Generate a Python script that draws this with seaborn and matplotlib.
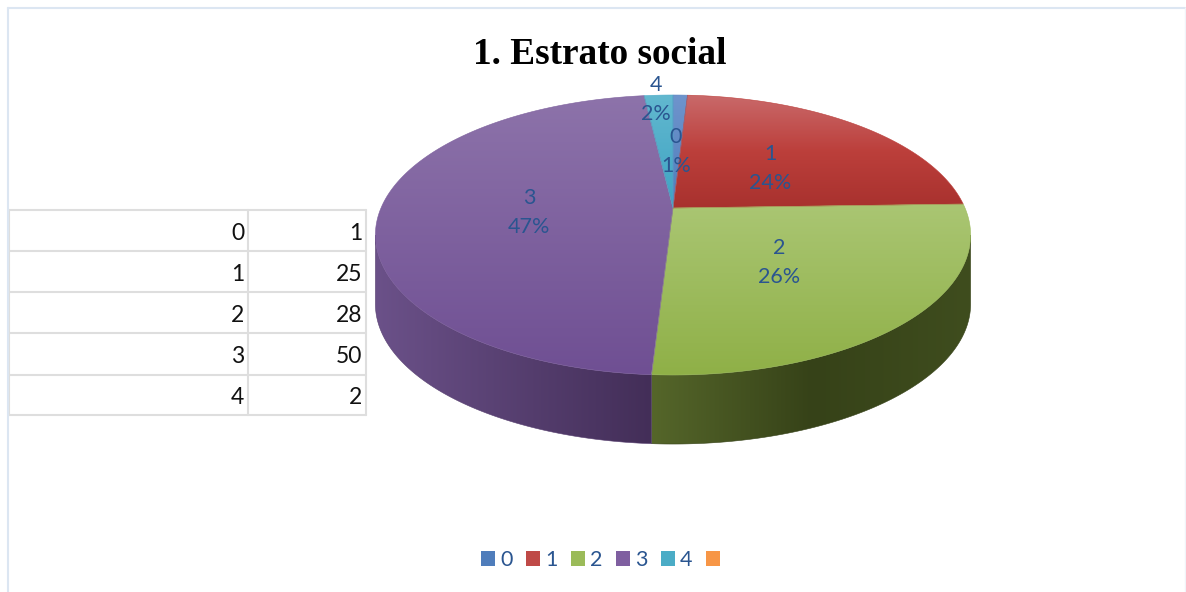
import numpy as np
import matplotlib
matplotlib.use("Agg")
import matplotlib.pyplot as plt
from matplotlib.patches import Polygon, Patch
import seaborn as sns

categories = ["0", "1", "2", "3", "4"]
counts = [1, 25, 28, 50, 2]
legend_extra = ""  # empty sixth entry of the original legend
title = "1. Estrato social"

# top face gradients, light to dark
top_colors = [["#6f94cc", "#4f7dbb"], ["#c9696a", "#bc3f3b", "#a8312e"], ["#aac673", "#8fb047"],
              ["#8d73aa", "#6f4f93"], ["#62b8cf", "#3ea3c3"]]
side_colors = [["#39557f", "#39557f"], ["#7c2d2b", "#7c2d2b"], ["#55662a", "#364218", "#3f4d1e"],
               ["#6b5189", "#432e58"], ["#2d7a91", "#2d7a91"]]
legend_colors = ["#4f7dbb", "#bf4a47", "#9bbb59", "#7f5fa0", "#4bacc6", "#f79646"]
label_color = "#2a5590"

# pie geometry in image pixels
cx, cy = 673, 208
rx, ry, persp, depth = 292, 134.8, 0.193, 69
label_pos = [(676, 151), (770, 168), (779, 262), (529, 212), (656, 99)]

sns.set_theme(style="white")
plt.rcParams["font.family"] = ["Lato", "DejaVu Sans"]

fig, ax = plt.subplots(figsize=(11.86, 5.92), dpi=100)
fig.subplots_adjust(0, 0, 1, 1)


def project(theta, shift=0):
    # theta is clockwise from 12 o'clock, the top face is tilted away from the viewer
    w = 1 + persp * np.cos(theta)
    return np.column_stack([cx + rx * np.sin(theta) / w, cy - ry * np.cos(theta) / w + shift])


def gradient_fill(points, colors, horizontal=False, zorder=2):
    cmap = sns.blend_palette(colors, as_cmap=True)
    x0, y0 = points.min(axis=0)
    x1, y1 = points.max(axis=0)
    grad = np.linspace(0, 1, 256)
    grad = grad[None, :] if horizontal else grad[:, None]
    im = ax.imshow(grad, cmap=cmap, extent=(x0, x1, y1, y0), aspect="auto", zorder=zorder, interpolation="bilinear")
    patch = Polygon(points, closed=True, transform=ax.transData, facecolor="none", edgecolor="none")
    ax.add_patch(patch)
    im.set_clip_path(patch)
    ax.add_patch(Polygon(points, closed=True, facecolor="none", edgecolor=cmap(0.5), lw=0.4, zorder=zorder + 0.1))


edges = np.concatenate([[0], np.cumsum(counts)]) / np.sum(counts) * 2 * np.pi
silhouette = np.arccos(-persp)

# walls first
for i in range(len(counts)):
    a = max(edges[i], silhouette)
    b = min(edges[i + 1], 2 * np.pi - silhouette)
    if b <= a:
        continue
    t = np.linspace(a, b, 200)
    pts = np.vstack([project(t), project(t[::-1], depth)])
    gradient_fill(pts, side_colors[i], horizontal=True, zorder=2)

# top face
for i in range(len(counts)):
    t = np.linspace(edges[i], edges[i + 1], 200)
    pts = np.vstack([[[cx, cy]], project(t)])
    gradient_fill(pts, top_colors[i], zorder=3)

# data labels
total = sum(counts)
for cat, val, (lx, ly) in zip(categories, counts, label_pos):
    ax.text(lx, ly - 14, cat, ha="center", va="center", fontsize=15.5, color=label_color, zorder=5)
    ax.text(lx, ly + 15, f"{val / total * 100:.0f}%", ha="center", va="center", fontsize=15.5,
            color=label_color, zorder=5)

# table at the left
row_y = [210, 251, 292, 333, 374.5, 415]
grid = "#dedede"
for y in row_y:
    ax.plot([8.5, 366], [y, y], color=grid, lw=1.5, zorder=1)
for x in [8.5, 248, 366]:
    ax.plot([x, x], [row_y[0], row_y[-1]], color=grid, lw=1.5, zorder=1)
for i, (cat, val) in enumerate(zip(categories, counts)):
    y = (row_y[i] + row_y[i + 1]) / 2 + 3
    ax.text(244, y, cat, ha="right", va="center", fontsize=16.5, color="#111111")
    ax.text(362, y, str(val), ha="right", va="center", fontsize=16.5, color="#111111")

# page frame
ax.plot([8, 8], [592, 8], color="#dce6f2", lw=1.5, zorder=1)
ax.plot([8, 1185], [8, 8], color="#dce6f2", lw=1.5, zorder=1)
ax.plot([1185, 1185], [8, 592], color="#f1f4f9", lw=1, zorder=1)

ax.text(600, 54, title, ha="center", va="center", fontsize=26.8, fontweight="bold",
        family="Liberation Serif", color="black", zorder=6)

handles = [Patch(facecolor=c, edgecolor="none") for c in legend_colors]
ax.legend(handles, categories + [legend_extra], loc="center", bbox_to_anchor=(603, 560),
          bbox_transform=ax.transData, ncol=6, frameon=False, fontsize=15.5, labelcolor=label_color,
          handlelength=0.65, handleheight=0.65, handletextpad=0.23, columnspacing=0.63, borderaxespad=0, borderpad=0)

ax.set_xlim(0, 1186)
ax.set_ylim(592, 0)
ax.axis("off")

fig.savefig("out.png", dpi=100)
